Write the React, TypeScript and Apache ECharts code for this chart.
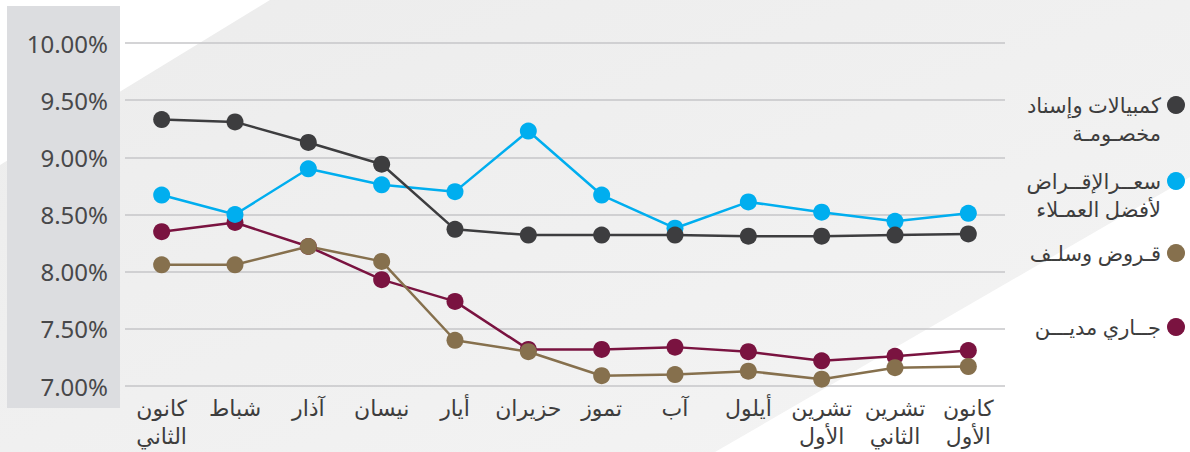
import React, { useEffect, useRef } from "react";
import * as echarts from "echarts";

const months = [
  "كانون\nالثاني", "شباط", "آذار", "نيسان", "أيار", "حزيران",
  "تموز", "آب", "أيلول", "تشرين\nالأول", "تشرين\nالثاني", "كانون\nالأول",
];
const billsDiscount = [9.33, 9.31, 9.13, 8.94, 8.37, 8.32, 8.32, 8.32, 8.31, 8.31, 8.32, 8.33];
const primeRate = [8.67, 8.5, 8.9, 8.76, 8.7, 9.23, 8.67, 8.38, 8.61, 8.52, 8.44, 8.51];
const loansAdvances = [8.06, 8.06, 8.22, 8.09, 7.4, 7.3, 7.09, 7.1, 7.13, 7.06, 7.16, 7.17];
const overdraft = [8.35, 8.43, 8.22, 7.93, 7.74, 7.32, 7.32, 7.34, 7.3, 7.22, 7.26, 7.31];

const seriesNames = [
  "كمبيالات وإسناد\nمخصـومـة",
  "سعــرالإقــراض\nلأفضل العمـلاء",
  "قـروض وسلـف",
  "جــاري مديـــن",
];
const colors = ["#3d3d3f", "#00aeef", "#86704d", "#7a1340"];
const yTicks = { min: 7, max: 10, interval: 0.5 };

export default function App() {
  const ref = useRef<HTMLDivElement>(null);
  useEffect(() => {
    document.body.style.margin = "0";
    const chart = echarts.init(ref.current!, null, { renderer: "svg" });
    const font = "'Noto Sans', 'DejaVu Sans', sans-serif";
    const legendTops = [105, 181, 253, 327];
    const legendGraphics: any[] = [];
    seriesNames.forEach((n, i) => {
      legendGraphics.push({
        type: "circle",
        shape: { cx: 1176, cy: legendTops[i], r: 9 },
        style: { fill: colors[i] },
        z: 10,
      });
      legendGraphics.push({
        type: "text",
        x: 1161,
        y: legendTops[i] - 14,
        style: {
          text: n,
          fill: "#3d3d3d",
          font: `21px ${font}`,
          align: "right",
          verticalAlign: "top",
          lineHeight: 28,
        },
        z: 10,
      });
    });
    const data = [billsDiscount, primeRate, loansAdvances, overdraft];
    const order = [3, 2, 1, 0];
    chart.setOption({
      animation: false,
      graphic: [
        {
          type: "rect",
          shape: { x: 0, y: 0, width: 1190, height: 452 },
          style: {
            fill: new echarts.graphic.LinearGradient(0, 0, 1, 1, [
              { offset: 0, color: "#ececec" },
              { offset: 1, color: "#f4f4f4" },
            ]),
          },
          z: -10,
          silent: true,
        },
        {
          type: "polygon",
          shape: { points: [[0, 0], [270, 0], [0, 165]] },
          style: { fill: "#ffffff" },
          z: -9,
          silent: true,
        },
        {
          type: "polygon",
          shape: { points: [[715, 452], [1190, 177], [1190, 452]] },
          style: { fill: "#ffffff" },
          z: -9,
          silent: true,
        },
        {
          type: "rect",
          shape: { x: 7, y: 6, width: 113, height: 402 },
          style: { fill: "#dcdde0" },
          z: -8,
          silent: true,
        },
        ...legendGraphics,
      ],
      grid: { left: 125, right: 185, top: 43, bottom: 66 },
      xAxis: {
        type: "category",
        data: months,
        boundaryGap: true,
        axisLine: { show: false },
        axisTick: { show: false },
        axisLabel: {
          color: "#3d3d3d",
          fontSize: 22,
          fontFamily: font,
          lineHeight: 28,
          margin: 7,
          interval: 0,
        },
      },
      yAxis: {
        type: "value",
        min: yTicks.min,
        max: yTicks.max,
        interval: yTicks.interval,
        axisLine: { show: false },
        axisTick: { show: false },
        splitLine: { lineStyle: { color: "#c6c6c8", width: 1.5 } },
        axisLabel: {
          color: "#48484a",
          fontSize: 24,
          fontFamily: font,
          margin: 17,
          formatter: (v: number) => v.toFixed(2) + "%",
        },
      },
      series: order.map((i) => ({
        name: seriesNames[i],
        type: "line",
        data: data[i],
        symbol: "circle",
        symbolSize: 17,
        itemStyle: { color: colors[i] },
        lineStyle: { color: colors[i], width: 2.5 },
      })),
    });
    return () => chart.dispose();
  }, []);
  return <div ref={ref} style={{ width: 1190, height: 452 }} />;
}
